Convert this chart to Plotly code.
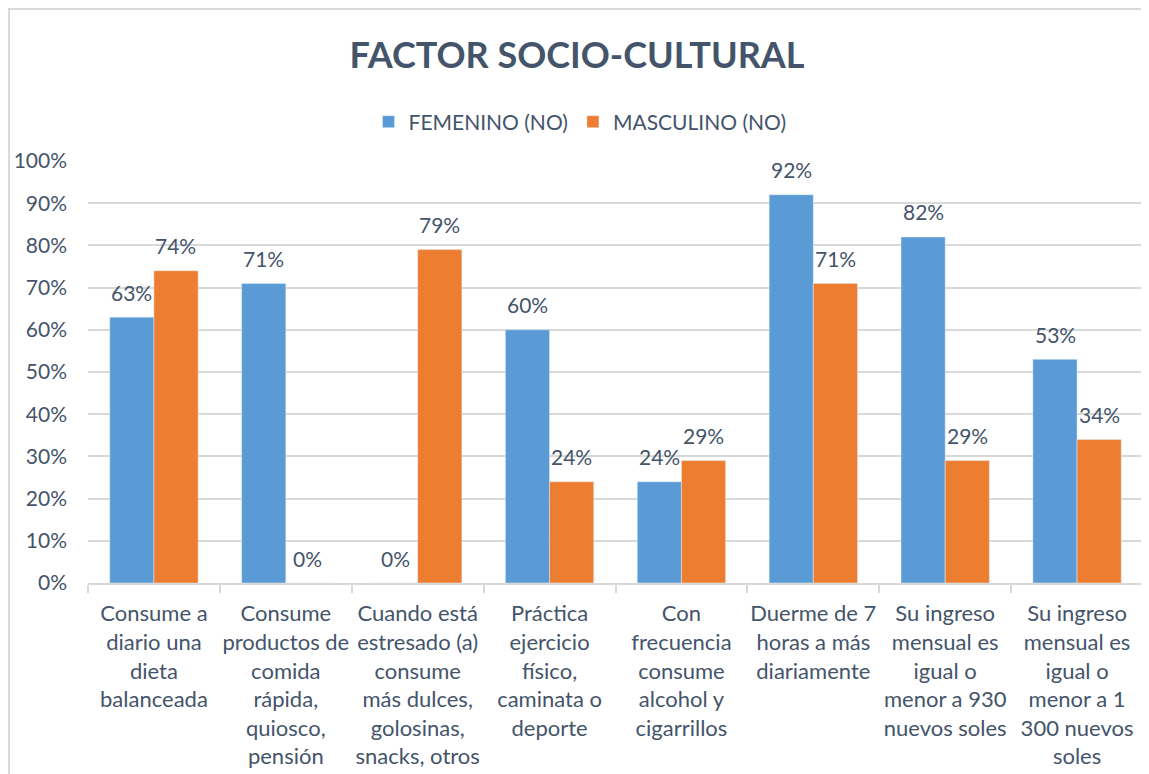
import plotly.graph_objects as go

categories = [
    "Consume a<br>diario una<br>dieta<br>balanceada",
    "Consume<br>productos de<br>comida<br>rápida,<br>quiosco,<br>pensión",
    "Cuando está<br>estresado (a)<br>consume<br>más dulces,<br>golosinas,<br>snacks, otros",
    "Práctica<br>ejercicio<br>físico,<br>caminata o<br>deporte",
    "Con<br>frecuencia<br>consume<br>alcohol y<br>cigarrillos",
    "Duerme de 7<br>horas a más<br>diariamente",
    "Su ingreso<br>mensual es<br>igual o<br>menor a 930<br>nuevos soles",
    "Su ingreso<br>mensual es<br>igual o<br>menor a 1<br>300 nuevos<br>soles",
]
femenino = [63, 71, 0, 60, 24, 92, 82, 53]
masculino = [74, 0, 79, 24, 29, 71, 29, 34]

TEXT = "#44546A"
GRID = "#D9D9D9"
FONT = "Lato, 'Open Sans', sans-serif"

# page has an 8px body margin, so figure coords = screen coords - 8
OFF = 8
W, H = 1141, 766
L, R, T, B = 88 - OFF, 1143 - OFF, 161 - OFF, 583 - OFF

fig = go.Figure()
fig.add_trace(go.Bar(x=categories, y=femenino, name="FEMENINO (NO)",
                     marker_color="#5B9BD5"))
fig.add_trace(go.Bar(x=categories, y=masculino, name="MASCULINO (NO)",
                     marker_color="#ED7D31"))

# data labels sit a little higher above the bars than plotly's outside text
for vals, dx in [(femenino, -22), (masculino, 22)]:
    for c, v in zip(categories, vals):
        fig.add_annotation(x=c, y=v, text=f"{v}%", showarrow=False,
                           xshift=dx, yshift=25, yanchor="middle",
                           font=dict(size=21, color=TEXT))

pw, ph = R - L, B - T
fig.add_shape(
    type="rect", xref="paper", yref="paper",
    x0=(1 - L) / pw, x1=(1145 - OFF - L) / pw,
    y0=(B - 800) / ph, y1=(B - 1) / ph,
    line=dict(color=GRID, width=2), fillcolor="rgba(0,0,0,0)", layer="below",
)

fig.update_layout(
    width=W, height=H,
    margin=dict(l=L, r=W - R, t=T, b=H - B, autoexpand=False),
    paper_bgcolor="white", plot_bgcolor="white",
    font=dict(family=FONT, color=TEXT, size=21),
    title=dict(text="<b>FACTOR SOCIO-CULTURAL</b>", x=(577 - OFF) / W, xanchor="center",
               y=1 - (55 - OFF) / H, yanchor="middle", font=dict(size=36, color=TEXT)),
    legend=dict(orientation="h", x=(580 - OFF - L) / pw, xanchor="center",
                y=(B - (122 - OFF)) / ph, yanchor="middle", font=dict(size=21, color=TEXT),
                itemwidth=30, traceorder="normal"),
    barmode="group", bargap=0.33, bargroupgap=0,
    showlegend=True,
)
fig.update_xaxes(
    showline=True, linecolor=GRID, linewidth=2, tickangle=0, automargin=False,
    ticks="outside", tickson="boundaries", ticklen=8, tickcolor=GRID, tickwidth=2,
    tickfont=dict(size=22, color=TEXT), showgrid=False, ticklabelstandoff=10,
)
fig.update_yaxes(
    range=[0, 100], dtick=10, ticksuffix="%", automargin=False,
    showgrid=True, gridcolor=GRID, gridwidth=2, zeroline=False, showline=False,
    tickfont=dict(size=21, color=TEXT), ticklabelstandoff=20,
)

fig.write_html("out.html")
